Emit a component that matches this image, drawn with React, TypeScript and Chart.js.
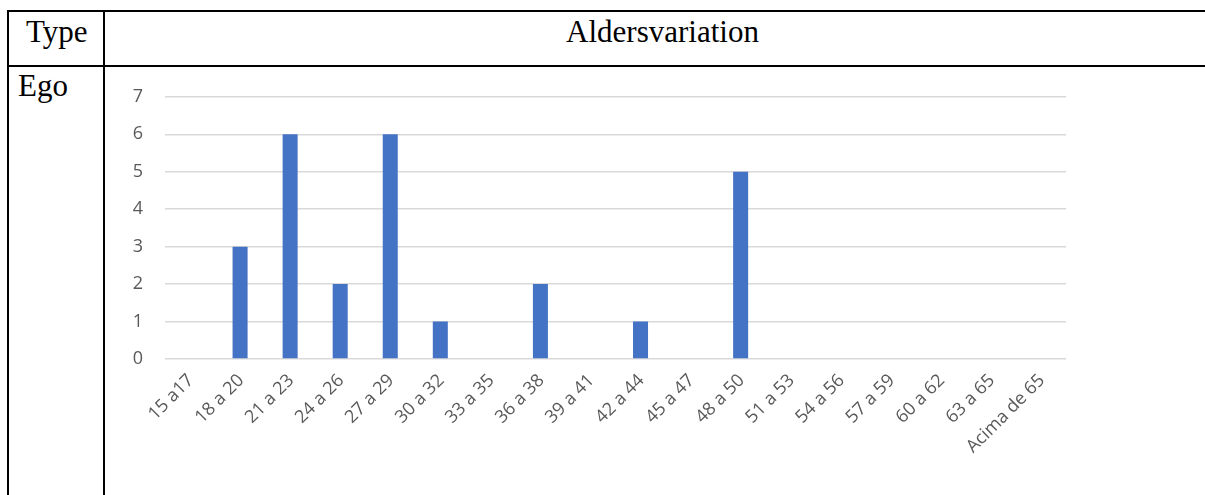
import React, { useEffect, useRef } from "react";
import { Chart, registerables } from "chart.js";

Chart.register(...registerables);

const headerType = "Type";
const headerTitle = "Aldersvariation";
const rowLabel = "Ego";

const categories = [
  "15 a17", "18 a 20", "21 a 23", "24 a 26", "27 a 29", "30 a 32",
  "33 a 35", "36 a 38", "39 a 41", "42 a 44", "45 a 47", "48 a 50",
  "51 a 53", "54 a 56", "57 a 59", "60 a 62", "63 a 65", "Acima de 65",
];
const counts = [0, 3, 6, 2, 6, 1, 0, 2, 0, 1, 0, 5, 0, 0, 0, 0, 0, 0];
const yTicks = [0, 1, 2, 3, 4, 5, 6, 7];

const serif = '"Liberation Serif", "Times New Roman", serif';
const sans = "'Open Sans', sans-serif";

Chart.defaults.font.family = sans;
Chart.defaults.font.size = 18;
Chart.defaults.color = "#595959";

function BarChart() {
  const ref = useRef<HTMLCanvasElement | null>(null);
  useEffect(() => {
    if (!ref.current) return;
    const tickFont = { family: sans, size: 18, weight: "normal" as const };
    const chart = new Chart(ref.current, {
      type: "bar",
      data: {
        labels: categories,
        datasets: [
          {
            data: counts,
            backgroundColor: "#4472C4",
            borderWidth: 0,
            categoryPercentage: 1,
            barPercentage: 0.3,
          },
        ],
      },
      options: {
        responsive: false,
        animation: false,
        devicePixelRatio: 1,
        layout: { padding: { left: 0, right: 139, top: 21, bottom: 0 } },
        plugins: { legend: { display: false }, tooltip: { enabled: false } },
        scales: {
          x: {
            grid: { display: false, drawTicks: false },
            border: { display: false },
            ticks: {
              minRotation: 45,
              maxRotation: 45,
              autoSkip: false,
              color: "#595959",
              padding: 11,
              labelOffset: 1,
              font: tickFont,
            },
            afterFit: (s: any) => {
              s.height = 136;
            },
          },
          y: {
            min: yTicks[0],
            max: yTicks[yTicks.length - 1],
            grid: { color: "#D9D9D9", lineWidth: 1.5, drawTicks: false },
            border: { display: false },
            ticks: {
              stepSize: 1,
              color: "#595959",
              padding: 22,
              font: tickFont,
            },
            afterFit: (s: any) => {
              s.width = 60;
            },
          },
        },
      },
    });
    return () => chart.destroy();
  }, []);
  return (
    <canvas
      ref={ref}
      width={1100}
      height={431}
      style={{ position: "absolute", left: 105, top: 64, width: 1100, height: 431 }}
    />
  );
}

export default function App() {
  const line = (l: number, t: number, w: number, h: number) => (
    <div style={{ position: "absolute", left: l, top: t, width: w, height: h, background: "#000" }} />
  );
  const text = (l: number, t: number, s: string, w?: number) => (
    <div
      style={{
        position: "absolute",
        left: l,
        top: t,
        width: w,
        textAlign: w ? "center" : "left",
        fontFamily: serif,
        fontSize: 31,
        lineHeight: "31px",
        color: "#000",
        whiteSpace: "nowrap",
      }}
    >
      {s}
    </div>
  );
  return (
    <div
      style={{
        position: "fixed",
        left: 0,
        top: 0,
        width: 1205,
        height: 495,
        overflow: "hidden",
        background: "#fff",
      }}
    >
      <BarChart />
      {line(7, 10, 1300, 2)}
      {line(7, 65, 1300, 2)}
      {line(7, 10, 2, 600)}
      {line(103, 10, 2, 600)}
      {text(26, 16, headerType)}
      {text(105, 16, headerTitle, 1115)}
      {text(18, 70, rowLabel)}
    </div>
  );
}
